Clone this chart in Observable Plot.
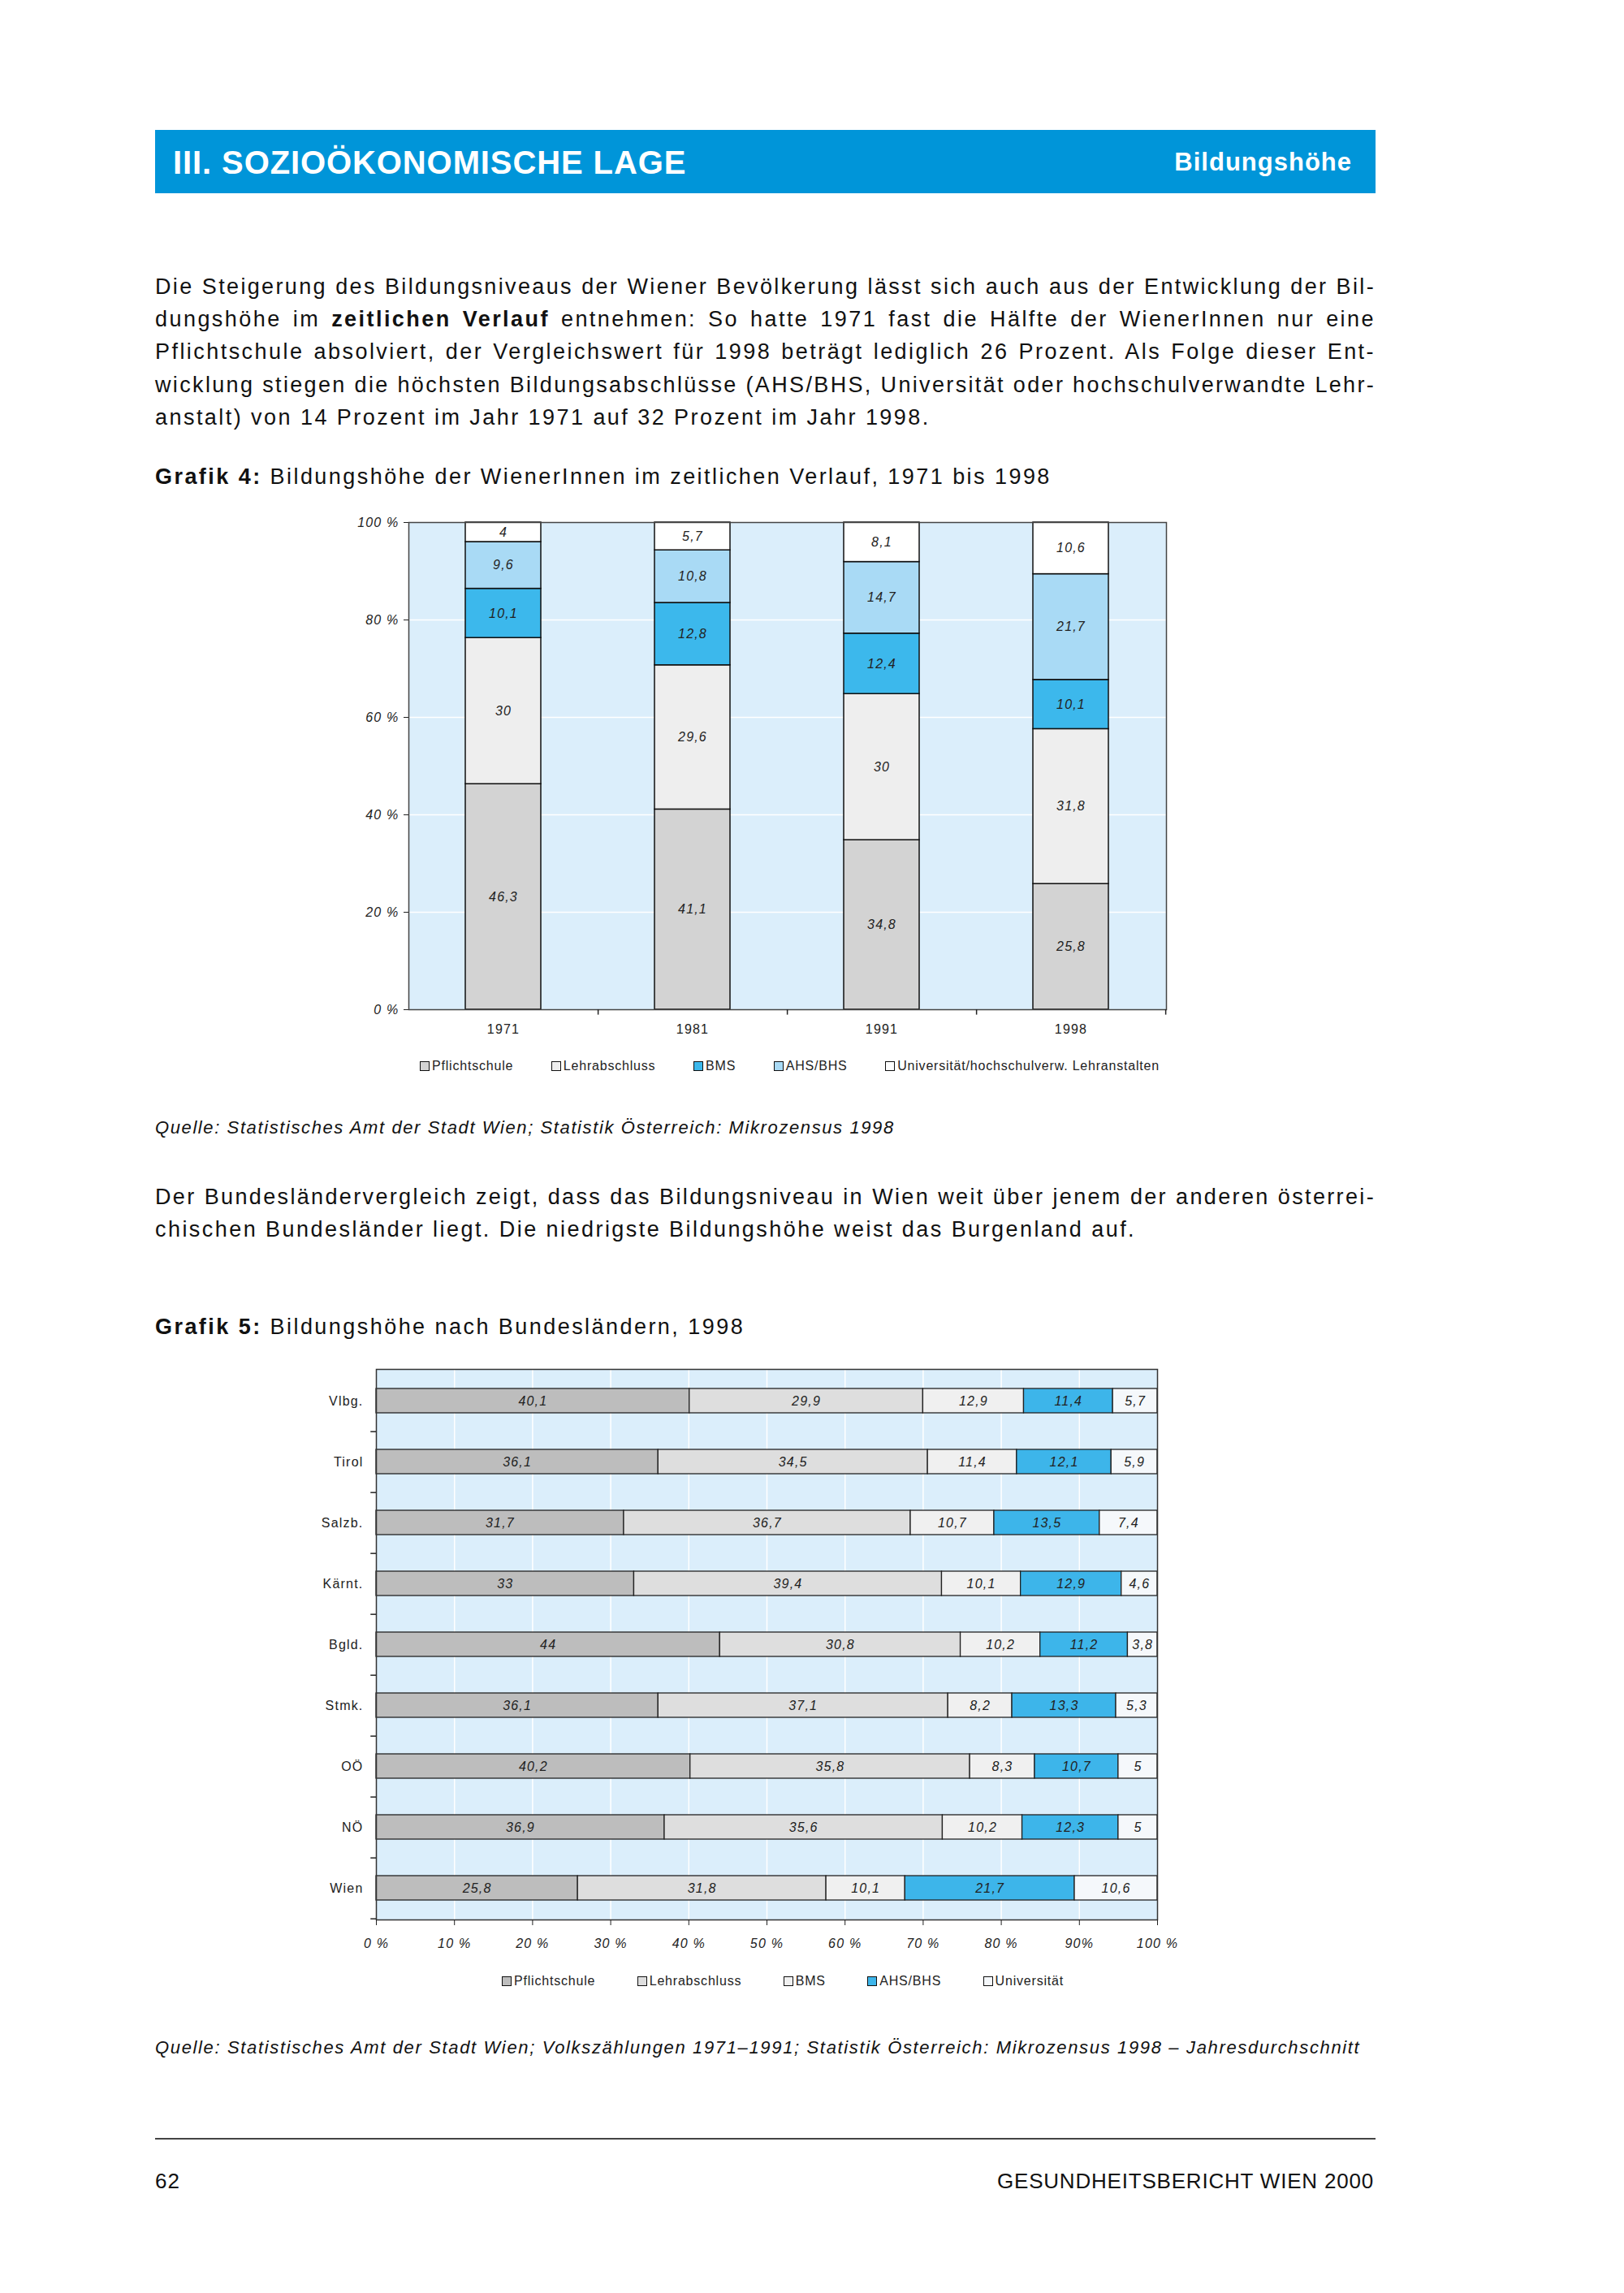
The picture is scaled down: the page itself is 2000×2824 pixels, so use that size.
<!DOCTYPE html>
<html lang="de">
<head>
<meta charset="utf-8">
<script src="https://cdn.jsdelivr.net/npm/d3@7"></script>
<script src="https://cdn.jsdelivr.net/npm/@observablehq/plot@0.6"></script>
<style>
  html, body { margin: 0; padding: 0; background: #fff; }
  #page { position: relative; width: 2000px; height: 2824px; background: #fff; overflow: hidden;
    font-family: "Liberation Sans", Arial, sans-serif; color: #111; }
  .abs { position: absolute; white-space: nowrap; }
  .line { position: absolute; left: 191px; width: 1503px; font-size: 27px; letter-spacing: 2.45px; height: 40px; line-height: 40px; white-space: nowrap; }
  .just { text-align: justify; text-align-last: justify; }
  .legend { position: absolute; display: flex; justify-content: space-between; align-items: center; font-size: 16px; letter-spacing: 0.8px; height: 24px; color: #222; }
  .legend .item { display: flex; align-items: center; }
  .legend .sw { width: 10px; height: 10px; border: 1.5px solid #111; margin-right: 3px; display: inline-block; }
</style>
</head>
<body>
<div id="page">
  <div class="abs" style="left:191px; top:160px; width:1503px; height:78px; background:#0095d9;"></div>
  <div class="abs" style="left:213px; top:160px; height:78px; line-height:80px; font-size:40px; font-weight:bold; color:#fff; letter-spacing:0.9px;">III. SOZIOÖKONOMISCHE LAGE</div>
  <div class="abs" style="right:335px; top:160px; height:78px; line-height:80px; font-size:31px; font-weight:bold; color:#fff; letter-spacing:1px;">Bildungshöhe</div>

  <div class="line just" style="top:333px;">Die Steigerung des Bildungsniveaus der Wiener Bevölkerung lässt sich auch aus der Entwicklung der Bil-</div>
  <div class="line just" style="top:373px;">dungshöhe im <b>zeitlichen Verlauf</b> entnehmen: So hatte 1971 fast die Hälfte der WienerInnen nur eine</div>
  <div class="line just" style="top:413px;">Pflichtschule absolviert, der Vergleichswert für 1998 beträgt lediglich 26 Prozent. Als Folge dieser Ent-</div>
  <div class="line just" style="top:454px;">wicklung stiegen die höchsten Bildungsabschlüsse (AHS/BHS, Universität oder hochschulverwandte Lehr-</div>
  <div class="line" style="top:494px;">anstalt) von 14 Prozent im Jahr 1971 auf 32 Prozent im Jahr 1998.</div>

  <div class="line" style="top:567px;"><b>Grafik 4:</b> Bildungshöhe der WienerInnen im zeitlichen Verlauf, 1971 bis 1998</div>

  <div id="chart1" class="abs" style="left:400px; top:620px;"></div>
  <div id="legend1" class="legend" style="left:517px; top:1301px; width:911px;"></div>

  <div class="abs" style="left:191px; top:1374px; font-size:22px; font-style:italic; letter-spacing:1.6px; line-height:30px;">Quelle: Statistisches Amt der Stadt Wien; Statistik Österreich: Mikrozensus 1998</div>

  <div class="line just" style="top:1454px;">Der Bundesländervergleich zeigt, dass das Bildungsniveau in Wien weit über jenem der anderen österrei-</div>
  <div class="line" style="top:1494px;">chischen Bundesländer liegt. Die niedrigste Bildungshöhe weist das Burgenland auf.</div>

  <div class="line" style="top:1614px;"><b>Grafik 5:</b> Bildungshöhe nach Bundesländern, 1998</div>

  <div id="chart2" class="abs" style="left:380px; top:1660px;"></div>
  <div id="legend2" class="legend" style="left:618px; top:2428px; width:692px;"></div>

  <div class="abs" style="left:191px; top:2507px; font-size:22px; font-style:italic; letter-spacing:1.65px; line-height:30px;">Quelle: Statistisches Amt der Stadt Wien; Volkszählungen 1971–1991; Statistik Österreich: Mikrozensus 1998 – Jahresdurchschnitt</div>

  <div class="abs" style="left:191px; top:2633px; width:1503px; height:2px; background:#444;"></div>
  <div class="abs" style="left:191px; top:2668px; font-size:26px; line-height:36px; letter-spacing:1px;">62</div>
  <div class="abs" style="right:308px; top:2668px; font-size:26px; line-height:36px; letter-spacing:0.8px;">GESUNDHEITSBERICHT WIEN 2000</div>
</div>

<script>
// ---------- Data: Grafik 4 ----------
const years = ["1971", "1981", "1991", "1998"];
const categories1 = ["Pflichtschule", "Lehrabschluss", "BMS", "AHS/BHS", "Universität/hochschulverw. Lehranstalten"];
const pflicht1 = [46.3, 41.1, 34.8, 25.8];
const lehr1    = [30, 29.6, 30, 31.8];
const bms1     = [10.1, 12.8, 12.4, 10.1];
const ahs1     = [9.6, 10.8, 14.7, 21.7];
const uni1     = [4, 5.7, 8.1, 10.6];
const yTicks1  = [0, 20, 40, 60, 80, 100];
const yTickLabels1 = ["0 %", "20 %", "40 %", "60 %", "80 %", "100 %"];
const colors1 = ["#d3d3d3", "#eeeeee", "#3cb8ec", "#a9daf5", "#ffffff"];

// ---------- Data: Grafik 5 ----------
const states = ["Vlbg.", "Tirol", "Salzb.", "Kärnt.", "Bgld.", "Stmk.", "OÖ", "NÖ", "Wien"];
const categories2 = ["Pflichtschule", "Lehrabschluss", "BMS", "AHS/BHS", "Universität"];
const pflicht2 = [40.1, 36.1, 31.7, 33, 44, 36.1, 40.2, 36.9, 25.8];
const lehr2    = [29.9, 34.5, 36.7, 39.4, 30.8, 37.1, 35.8, 35.6, 31.8];
const bms2     = [12.9, 11.4, 10.7, 10.1, 10.2, 8.2, 8.3, 10.2, 10.1];
const ahs2     = [11.4, 12.1, 13.5, 12.9, 11.2, 13.3, 10.7, 12.3, 21.7];
const uni2     = [5.7, 5.9, 7.4, 4.6, 3.8, 5.3, 5, 5, 10.6];
const xTicks2  = [0, 10, 20, 30, 40, 50, 60, 70, 80, 90, 100];
const xTickLabels2 = ["0 %", "10 %", "20 %", "30 %", "40 %", "50 %", "60 %", "70 %", "80 %", "90%", "100 %"];
const colors2 = ["#bdbdbd", "#dedede", "#f0f0f0", "#3db5ea", "#f5f8fb"];

const fmt = v => String(v).replace(".", ",");
const FONT = '"Liberation Sans", Arial, sans-serif';

// ---------- Build tables ----------
const series1 = [pflicht1, lehr1, bms1, ahs1, uni1];
const data1 = [];
years.forEach((y, i) => categories1.forEach((c, j) => data1.push({year: y, category: c, value: series1[j][i]})));

const series2 = [pflicht2, lehr2, bms2, ahs2, uni2];
const data2 = [];
states.forEach((s, i) => categories2.forEach((c, j) => data2.push({state: s, category: c, value: series2[j][i]})));

// ---------- Chart 1 ----------
const W1 = 1100, H1 = 680, ML1 = 103, MR1 = 64, MT1 = 23, MB1 = 57;
const step1 = (W1 - ML1 - MR1) / years.length;
const chart1 = Plot.plot({
  width: W1, height: H1,
  marginLeft: ML1, marginRight: MR1, marginTop: MT1, marginBottom: MB1,
  style: {fontFamily: FONT, fontSize: "16px", color: "#222", background: "transparent", overflow: "visible", letterSpacing: "1.2px"},
  x: {domain: years, paddingInner: 0.6, paddingOuter: 0.3, label: null},
  y: {domain: [0, 100], label: null},
  color: {domain: categories1, range: colors1},
  marks: [
    Plot.frame({fill: "#dbeefb", stroke: null}),
    Plot.gridY(yTicks1.slice(1, -1), {stroke: "#fff", strokeOpacity: 1, strokeWidth: 1.5}),
    Plot.barY(data1, {x: "year", y: "value", fill: "category", stroke: "#111", strokeWidth: 1.5}),
    Plot.text(data1, Plot.stackY({x: "year", y: "value", text: d => fmt(d.value), fontStyle: "italic", fill: "#222"})),
    Plot.frame({stroke: "#444", strokeWidth: 1.5}),
    Plot.axisY({ticks: yTicks1, tickFormat: (d, i) => yTickLabels1[i], tickSize: 6, tickPadding: 6, fontStyle: "italic", stroke: "#222"}),
    Plot.axisX({tickSize: 0, tickPadding: 18}),
    Plot.ruleX(years, {x: d => d, dx: step1 / 2, y1: 0, y2: -1.1, stroke: "#222", strokeWidth: 1.5})
  ]
});
document.getElementById("chart1").appendChild(chart1);

// ---------- Chart 2 ----------
const W2 = 1080, H2 = 770, ML2 = 83, MR2 = 35, MT2 = 26, MB2 = 66;
const step2 = (H2 - MT2 - MB2) / states.length;
const chart2 = Plot.plot({
  width: W2, height: H2,
  marginLeft: ML2, marginRight: MR2, marginTop: MT2, marginBottom: MB2,
  style: {fontFamily: FONT, fontSize: "16px", color: "#222", background: "transparent", overflow: "visible", letterSpacing: "1.2px"},
  y: {domain: states, paddingInner: 0.6, paddingOuter: 0.3, label: null},
  x: {domain: [0, 100], label: null},
  color: {domain: categories2, range: colors2},
  marks: [
    Plot.frame({fill: "#dbeefb", stroke: null}),
    Plot.gridX(xTicks2.slice(1, -1), {stroke: "#fff", strokeOpacity: 1, strokeWidth: 1.5}),
    Plot.barX(data2, {y: "state", x: "value", fill: "category", stroke: "#222", strokeWidth: 1.3}),
    Plot.text(data2, Plot.stackX({y: "state", x: "value", text: d => fmt(d.value), fontStyle: "italic", fill: "#222"})),
    Plot.frame({stroke: "#333", strokeWidth: 1.5}),
    Plot.axisX({ticks: xTicks2, tickFormat: (d, i) => xTickLabels2[i], tickSize: 7, tickPadding: 16, fontStyle: "italic", stroke: "#222"}),
    Plot.axisY({tickSize: 0, tickPadding: 16}),
    Plot.ruleY(states, {y: d => d, dy: step2 / 2, x1: 0, x2: -0.7, stroke: "#222", strokeWidth: 1.5})
  ]
});
document.getElementById("chart2").appendChild(chart2);

// ---------- Legends ----------
function legend(el, cats, cols) {
  cats.forEach((c, i) => {
    const item = document.createElement("div");
    item.className = "item";
    const sw = document.createElement("span");
    sw.className = "sw";
    sw.style.background = cols[i];
    item.appendChild(sw);
    item.appendChild(document.createTextNode(c));
    el.appendChild(item);
  });
}
legend(document.getElementById("legend1"), categories1, colors1);
legend(document.getElementById("legend2"), categories2, colors2);

// keep justified lines inside their box
document.querySelectorAll(".line.just").forEach(el => {
  let ls = 2.45;
  while (el.scrollWidth > el.clientWidth + 1 && ls > 0) {
    ls -= 0.1;
    el.style.letterSpacing = ls + "px";
  }
});
</script>
</body>
</html>
